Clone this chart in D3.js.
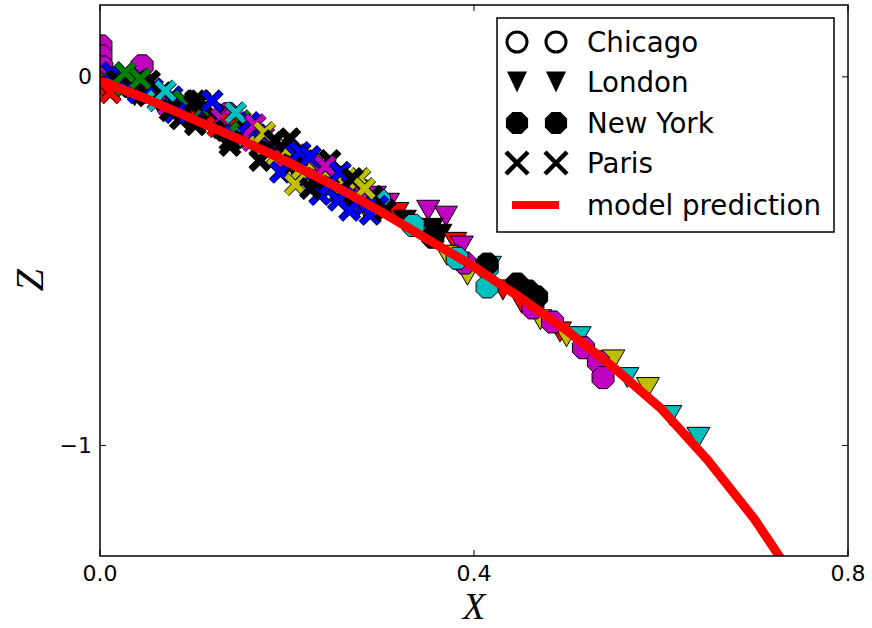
<!DOCTYPE html>
<html><head><meta charset="utf-8">
<script src="https://cdn.jsdelivr.net/npm/d3@7"></script>
<style>body{margin:0;background:#fff}</style>
</head><body>
<svg id="c" width="872" height="628"></svg>
<script>
// ---- data ----
const xTicks = [0.0, 0.4, 0.8];
const xTickLabels = ["0.0", "0.4", "0.8"];
const zTicks = [0, -1];
const zTickLabels = ["0", "\u22121"];
const legendLabels = ["Chicago", "London", "New York", "Paris", "model prediction"];
const colorKeys = {b:"#0000ff", g:"#008000", r:"#ff0000", c:"#00bfbf", m:"#bf00bf", y:"#bfbf00", k:"#000000"};

// London (triangle down)
const londonX = [0.016,0.037,0.064,0.091,0.112,0.123,0.150,0.173,0.198,0.214,0.233,0.251,0.270,0.283,0.294,0.308,0.318,0.326,0.351,0.370,0.355,0.364,0.380,0.387,0.371,0.393,0.417,0.431,0.451,0.471,0.492,0.499,0.513,0.549,0.564,0.586,0.610,0.640];
const londonZ = [-0.032,-0.051,-0.076,-0.097,-0.119,-0.141,-0.168,-0.189,-0.232,-0.276,-0.281,-0.314,-0.335,-0.354,-0.324,-0.343,-0.368,-0.389,-0.362,-0.378,-0.411,-0.427,-0.449,-0.459,-0.484,-0.538,-0.514,-0.578,-0.614,-0.659,-0.692,-0.705,-0.705,-0.768,-0.816,-0.843,-0.919,-0.978];
const londonC = "kkkkrkkkkkkkkrmmrkmmkkrmyycrryrycycycc";

// Chicago (octagon)
const chicagoX = [0.390,0.463,0.484,0.517,0.533,0.538,0.299,0.335,0.382,0.414,0.414];
const chicagoZ = [-0.505,-0.627,-0.665,-0.735,-0.773,-0.816,-0.335,-0.403,-0.492,-0.519,-0.570];
const chicagoC = "mmmmmmccccc";

// New York (octagon)
const newYorkX = [0.001,0.001,0.002,0.045,0.137,0.356,0.414,0.446,0.458,0.467];
const newYorkZ = [0.084,0.057,0.027,0.030,-0.100,-0.435,-0.508,-0.562,-0.581,-0.597];
const newYorkC = "mmmmmkkkkk";

// Paris (x)
const parisX = [0.004,0.009,0.013,0.019,0.024,0.030,0.034,0.041,0.047,0.051,0.056,0.062,0.066,0.073,0.077,0.083,0.090,0.094,0.101,0.105,0.111,0.116,0.122,0.126,0.130,0.135,0.141,0.145,0.150,0.154,0.158,0.163,0.167,0.171,0.175,0.180,0.184,0.188,0.193,0.197,0.201,0.205,0.210,0.214,0.218,0.222,0.227,0.231,0.235,0.240,0.244,0.248,0.252,0.257,0.261,0.265,0.270,0.274,0.278,0.284,0.291,0.297,0.053,0.107,0.160,0.203,0.246,0.278,0.086,0.139,0.193,0.235,0.267,
  0.011,0.027,0.043,0.070,0.080,0.102,0.120,0.145,0.166,0.176,0.187,0.214,0.225,0.241,0.257,0.270,0.283,0.289,0.305,0.209,0.225,0.255,0.171,0.139,0.102,0.075];
const parisZ = [-0.005,-0.022,0.011,-0.011,-0.032,-0.005,-0.027,-0.043,-0.022,-0.051,-0.032,-0.065,-0.043,-0.076,-0.054,-0.086,-0.065,-0.097,-0.076,-0.114,-0.086,-0.124,-0.103,-0.135,-0.114,-0.146,-0.130,-0.157,-0.119,-0.168,-0.141,-0.173,-0.157,-0.189,-0.162,-0.200,-0.178,-0.216,-0.189,-0.227,-0.200,-0.238,-0.211,-0.254,-0.227,-0.265,-0.238,-0.276,-0.249,-0.286,-0.259,-0.297,-0.270,-0.314,-0.286,-0.324,-0.297,-0.335,-0.308,-0.346,-0.324,-0.351,-0.011,-0.065,-0.124,-0.168,-0.227,-0.276,-0.114,-0.173,-0.259,-0.319,-0.362,
  -0.043,0.011,-0.005,-0.038,-0.097,-0.065,-0.065,-0.097,-0.130,-0.151,-0.173,-0.205,-0.216,-0.243,-0.259,-0.276,-0.303,-0.373,-0.362,-0.292,-0.303,-0.335,-0.227,-0.186,-0.130,-0.092];
const parisC = "grbkgbkbmkbckmbkgbkrgbkrmkrbgckmbymkbykmykbykbykmkybkbykbkmbkbkkbkkykkbbb" + "rggcbkbcmykbbmbkybkykbkkkk";

// model prediction
const modelX = [0, 0.05, 0.1, 0.15, 0.2, 0.25, 0.3, 0.35, 0.4, 0.45, 0.5, 0.55, 0.6, 0.65, 0.7, 0.75];
const modelZ = [-0.01, -0.06, -0.115, -0.17, -0.23, -0.295, -0.365, -0.44, -0.515, -0.6, -0.69, -0.79, -0.9, -1.04, -1.2, -1.39];

// ---- drawing ----
const svg = d3.select("#c");
const L = 100, R = 848, T = 5, B = 556;
const x = d3.scaleLinear().domain([0, 0.8]).range([L, R]);
const y = d3.scaleLinear().domain([-1.3, 0.195]).range([B, T]);

svg.append("defs").append("clipPath").attr("id", "plotclip")
  .append("rect").attr("x", L).attr("y", T).attr("width", R - L).attr("height", B - T);

const g = svg.append("g").attr("clip-path", "url(#plotclip)");

function octPath(r) {
  const pts = d3.range(8).map(i => {
    const a = Math.PI / 8 + i * Math.PI / 4;
    return [r * Math.cos(a), r * Math.sin(a)];
  });
  return "M" + pts.map(p => p.join(",")).join("L") + "Z";
}
function triPath(w, h) {
  return `M${-w/2},${-h/2}L${w/2},${-h/2}L0,${h/2}Z`;
}
function xPath(s) {
  return `M${-s},${-s}L${s},${s}M${-s},${s}L${s},${-s}`;
}
const OCT = octPath(11.9), TRI = triPath(23, 20), XS = xPath(9);

function zip(xs, zs, cs) { return xs.map((v, i) => ({x: v, z: zs[i], c: colorKeys[cs[i]]})); }

// triangles
g.selectAll(".lon").data(zip(londonX, londonZ, londonC)).enter().append("path")
  .attr("d", TRI).attr("transform", d => `translate(${x(d.x)},${y(d.z)})`)
  .attr("fill", d => d.c).attr("stroke", "#000").attr("stroke-width", 1);

// octagons
g.selectAll(".chi").data(zip(chicagoX, chicagoZ, chicagoC)).enter().append("path")
  .attr("d", OCT).attr("transform", d => `translate(${x(d.x)},${y(d.z)})`)
  .attr("fill", d => d.c).attr("stroke", "#000").attr("stroke-width", 1);
g.selectAll(".ny").data(zip(newYorkX, newYorkZ, newYorkC)).enter().append("path")
  .attr("d", OCT).attr("transform", d => `translate(${x(d.x)},${y(d.z)})`)
  .attr("fill", d => d.c).attr("stroke", "#000").attr("stroke-width", 1);

// x markers
const par = g.selectAll(".par").data(zip(parisX, parisZ, parisC)).enter().append("g")
  .attr("transform", d => `translate(${x(d.x)},${y(d.z)})`);
par.append("path").attr("d", XS).attr("stroke", "#000").attr("stroke-width", 7).attr("fill", "none");
par.append("path").attr("d", XS).attr("stroke", d => d.c).attr("stroke-width", 5.5).attr("fill", "none");

// model line
g.append("path").datum(modelX.map((v, i) => [v, modelZ[i]]))
  .attr("d", d3.line().x(d => x(d[0])).y(d => y(d[1])))
  .attr("fill", "none").attr("stroke", "#ff0000").attr("stroke-width", 9);

// frame
svg.append("rect").attr("x", L).attr("y", T).attr("width", R - L).attr("height", B - T)
  .attr("fill", "none").attr("stroke", "#000").attr("stroke-width", 1.5);

// ticks
const tl = 6;
xTicks.forEach((t, i) => {
  svg.append("line").attr("x1", x(t)).attr("x2", x(t)).attr("y1", B).attr("y2", B - tl).attr("stroke", "#000");
  svg.append("line").attr("x1", x(t)).attr("x2", x(t)).attr("y1", T).attr("y2", T + tl).attr("stroke", "#000");
  svg.append("text").attr("x", x(t)).attr("y", 581).attr("text-anchor", "middle")
    .attr("font-family", "DejaVu Sans").attr("font-size", 22)
    .text(xTickLabels[i]);
});
zTicks.forEach((t, i) => {
  svg.append("line").attr("x1", L).attr("x2", L + tl).attr("y1", y(t)).attr("y2", y(t)).attr("stroke", "#000");
  svg.append("line").attr("x1", R).attr("x2", R - tl).attr("y1", y(t)).attr("y2", y(t)).attr("stroke", "#000");
  svg.append("text").attr("x", 92).attr("y", y(t)).attr("text-anchor", "end")
    .attr("dominant-baseline", "central").attr("font-family", "DejaVu Sans").attr("font-size", 22)
    .text(zTickLabels[i]);
});

// axis labels
svg.append("text").attr("x", 474).attr("y", 619).attr("text-anchor", "middle")
  .attr("font-family", "Liberation Serif").attr("font-style", "italic")
  .attr("font-size", 37).text("X");
svg.append("text").attr("transform", "translate(43,280) rotate(-90)").attr("text-anchor", "middle")
  .attr("font-family", "Liberation Serif").attr("font-style", "italic")
  .attr("font-size", 40).text("Z");

// legend
const lg = svg.append("g");
lg.append("rect").attr("x", 497).attr("y", 18).attr("width", 337).attr("height", 214)
  .attr("fill", "#fff").attr("stroke", "#000").attr("stroke-width", 1.5);
const rowY = [42, 82, 123, 163, 205];
const mx = [517, 556];
legendLabels.forEach((lab, i) => {
  const yy = rowY[i];
  if (i === 0) mx.forEach(m => lg.append("circle").attr("cx", m).attr("cy", yy).attr("r", 10)
    .attr("fill", "none").attr("stroke", "#000").attr("stroke-width", 3));
  if (i === 1) mx.forEach(m => lg.append("path").attr("d", triPath(20, 21)).attr("transform", `translate(${m},${yy})`).attr("fill", "#000"));
  if (i === 2) mx.forEach(m => lg.append("path").attr("d", octPath(12)).attr("transform", `translate(${m},${yy})`).attr("fill", "#000"));
  if (i === 3) mx.forEach(m => lg.append("path").attr("d", xPath(11)).attr("transform", `translate(${m},${yy})`).attr("stroke", "#000").attr("stroke-width", 4.5).attr("fill", "none"));
  if (i === 4) lg.append("line").attr("x1", 512).attr("x2", 559).attr("y1", yy).attr("y2", yy).attr("stroke", "#ff0000").attr("stroke-width", 8);
  lg.append("text").attr("x", 587).attr("y", yy).attr("dominant-baseline", "central")
    .attr("font-family", "DejaVu Sans").attr("font-size", 27.7).text(lab);
});
</script>
</body></html>
